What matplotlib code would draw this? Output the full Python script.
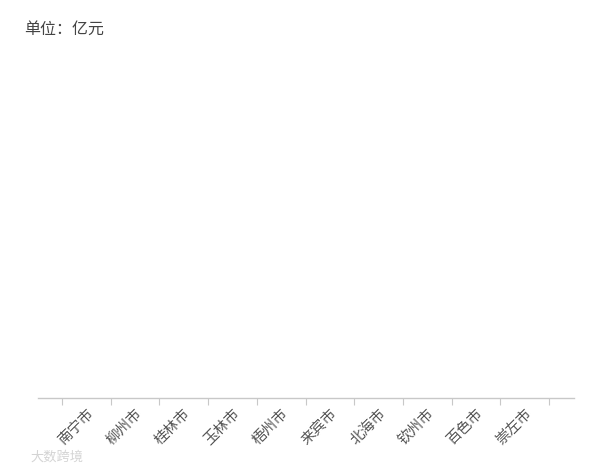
import matplotlib.pyplot as plt
import numpy as np

plt.rcParams['font.family'] = ['Noto Sans CJK SC', 'DejaVu Sans']

# 城市（图中没有可见的柱子，数值为空）
cities = ['南宁市', '柳州市', '桂林市', '玉林市', '梧州市',
          '来宾市', '北海市', '钦州市', '百色市', '崇左市']
values = [0, 0, 0, 0, 0, 0, 0, 0, 0, 0]
unit = '单位：亿元'

fig = plt.figure(figsize=(6, 4.7), dpi=100)
ax = fig.add_axes([38 / 600, 1 - 398 / 470, 536 / 600, 0.74])

x = np.arange(len(cities))
ax.bar(x, values, width=0.6, color='#5b8ff9')

ax.set_xlim(-0.99, len(cities) + 0.01)
ax.set_ylim(0, 1)

# 分隔刻度放在类别边界，标签放在类别中心
ax.set_xticks(np.arange(len(cities) + 1) - 0.5)
ax.set_xticklabels([])
ax.tick_params(axis='x', which='major', length=5, color='#c8c8c8', width=0.8)
ax.set_xticks(x, minor=True)
ax.set_xticklabels(cities, minor=True, rotation=45, ha='right', va='top',
                   rotation_mode='anchor', fontsize=10.5, color='#555555')
ax.tick_params(axis='x', which='minor', length=0, pad=6)

ax.set_yticks([])
for side in ['top', 'right', 'left']:
    ax.spines[side].set_visible(False)
ax.spines['bottom'].set_color('#c8c8c8')
ax.spines['bottom'].set_linewidth(1)

fig.text(24 / 600, 1 - 29 / 470, unit, fontsize=11.5, color='#444444',
         ha='left', va='center')
fig.text(30 / 600, 1 - 457 / 470, '大数跨境', fontsize=9.5, color='#d4d4d4',
         ha='left', va='center')

fig.savefig('out.png', dpi=100, facecolor='white')
